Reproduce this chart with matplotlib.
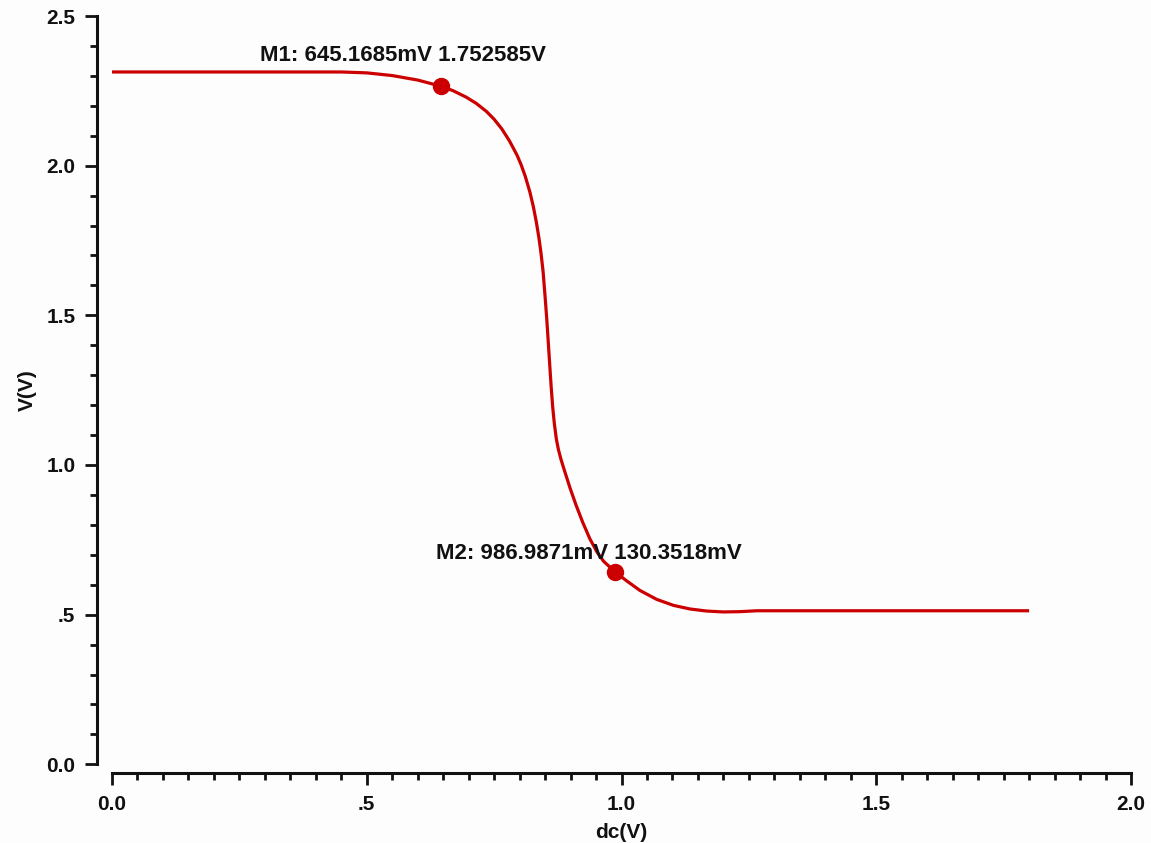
import matplotlib
matplotlib.use("Agg")
import matplotlib.pyplot as plt
from matplotlib.ticker import MultipleLocator

# DC sweep of the inverter input (V) and the simulated output (V)
vin = [0.00, 0.10, 0.20, 0.30, 0.40, 0.45, 0.50, 0.55, 0.60, 0.6451685,
       0.67, 0.695, 0.715, 0.735, 0.75, 0.765, 0.78, 0.795,
       0.803, 0.811, 0.820, 0.827, 0.833, 0.838, 0.842, 0.846,
       0.850, 0.853, 0.856, 0.859, 0.862, 0.865, 0.868, 0.872, 0.876, 0.881,
       0.887, 0.893, 0.899, 0.911, 0.924, 0.938, 0.952, 0.965, 0.9869871,
       1.010, 1.036, 1.069, 1.102, 1.134, 1.167, 1.200, 1.233, 1.266,
       1.30, 1.50, 1.80]
vout = [1.800, 1.800, 1.800, 1.800, 1.800, 1.800, 1.797, 1.788, 1.773, 1.752585,
        1.737, 1.716, 1.695, 1.668, 1.642, 1.610, 1.570, 1.522,
        1.490, 1.452, 1.400, 1.350, 1.297, 1.245, 1.195, 1.135,
        1.050, 0.982, 0.905, 0.825, 0.747, 0.680, 0.628, 0.575, 0.540, 0.507,
        0.474, 0.442, 0.410, 0.352, 0.295, 0.240, 0.196, 0.165, 0.1303518,
        0.100, 0.068, 0.038, 0.018, 0.006, -0.001, -0.004, -0.003, 0.000,
        0.000, 0.000, 0.000]

# Cursor markers (x in V, y in V)
marker_names = ["M1", "M2"]
marker_x = [0.6451685, 0.9869871]
marker_y = [1.752585, 0.1303518]

# Level shift applied to the displayed trace
y_shift = 0.513

x_ticks = [0.0, 0.5, 1.0, 1.5, 2.0]
x_ticklabels = ["0.0", ".5", "1.0", "1.5", "2.0"]
y_ticks = [0.0, 0.5, 1.0, 1.5, 2.0, 2.5]
y_ticklabels = ["0.0", ".5", "1.0", "1.5", "2.0", "2.5"]

plt.rcParams["font.family"] = ["Liberation Sans", "DejaVu Sans"]
plt.rcParams["font.weight"] = "bold"

RED = "#cc0000"
INK = "#111111"
BG = "#fdfdfd"

fig = plt.figure(figsize=(11.51, 8.43), dpi=100, facecolor=BG)
ax = fig.add_axes([112 / 1151, (843 - 764.3) / 843, 1019 / 1151, 748.3 / 843])
ax.set_facecolor(BG)

ax.plot(vin, [v + y_shift for v in vout], color=RED, lw=2.3,
        solid_capstyle="butt", solid_joinstyle="round", clip_on=False, zorder=3)

def fmt_v(v):
    return f"{v:.6f}V" if abs(v) >= 1 else f"{v * 1000:.4f}mV"

text_offsets = [(-130, 18), (-129, 9.5)]
for name, mx, my, off in zip(marker_names, marker_x, marker_y, text_offsets):
    ax.plot([mx], [my + y_shift], "o", color=RED, ms=11.5, zorder=4, clip_on=False)
    ax.annotate(f"{name}: {fmt_v(mx)} {fmt_v(my)}", xy=(mx, my + y_shift),
                xytext=off, textcoords="offset points", ha="left",
                va="baseline", fontsize=16, fontweight="bold", color=INK)

ax.set_xlim(0, 2.0)
ax.set_ylim(0, 2.5)

for side in ("top", "right"):
    ax.spines[side].set_visible(False)
ax.spines["left"].set_position(("outward", 10.8))
ax.spines["bottom"].set_position(("outward", 6.3))
for side in ("left", "bottom"):
    ax.spines[side].set_linewidth(2.2)
    ax.spines[side].set_color(INK)

ax.set_xticks(x_ticks, x_ticklabels)
ax.set_yticks(y_ticks, y_ticklabels)
ax.xaxis.set_minor_locator(MultipleLocator(0.05))
ax.yaxis.set_minor_locator(MultipleLocator(0.1))
ax.tick_params(which="major", length=8.5, width=2.0, color=INK,
               labelsize=15, pad=7, labelcolor=INK)
ax.tick_params(which="minor", length=5, width=2.0, color=INK)
for lbl in ax.get_xticklabels() + ax.get_yticklabels():
    lbl.set_fontweight("bold")

ax.set_xlabel("dc(V)", fontsize=15, fontweight="bold", color=INK)
ax.set_ylabel("V(V)", fontsize=15, fontweight="bold", color=INK)
ax.xaxis.set_label_coords(0.5, -0.079)
ax.yaxis.set_label_coords(-0.0736, 0.5)

fig.savefig("out.png", dpi=100, facecolor=BG)
